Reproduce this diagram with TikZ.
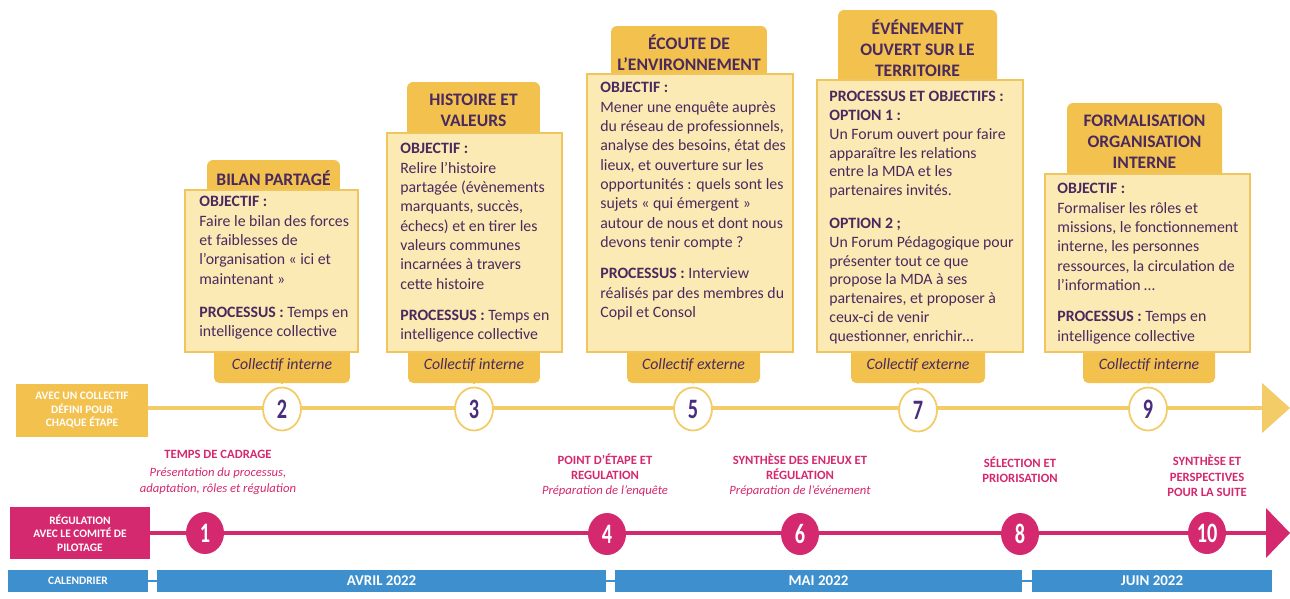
\documentclass[tikz,border=0pt]{standalone}
\usepackage{fontspec}
\setmainfont{Carlito}
\usepackage{graphicx}
\usetikzlibrary{arrows.meta,shapes.geometric}

\definecolor{tabyellow}{HTML}{F2C14E}
\definecolor{cardfill}{HTML}{FCEAB4}
\definecolor{cardline}{HTML}{EFC55E}
\definecolor{lineyellow}{HTML}{F3CB67}
\definecolor{rosepink}{HTML}{D4286F}
\definecolor{calblue}{HTML}{3D8FCE}
\definecolor{inkpurple}{HTML}{4A2A5E}
\definecolor{numpurple}{HTML}{4B2C7A}

\newcommand{\numb}[1]{\scalebox{0.72}[1]{#1}}

\begin{document}
\begin{tikzpicture}[x=0.02cm, y=-0.02cm,
  tab/.style={fill=tabyellow, rounded corners=3.5pt, inner sep=0pt, align=center, text=inkpurple, font=\fontsize{10}{12}\selectfont\bfseries},
  foot/.style={fill=tabyellow, rounded corners=3pt, inner sep=0pt, minimum height=0.72cm, text=inkpurple, font=\fontsize{9}{11}\selectfont\itshape},
  card/.style={fill=cardfill, draw=cardline, line width=0.8pt, inner sep=0pt},
  cardtext/.style={anchor=north west, inner sep=0pt, align=left, text=inkpurple, font=\fontsize{9}{11}\selectfont},
  sidebox/.style={inner sep=0pt, align=center, text=white, font=\fontsize{6.5}{7.7}\selectfont\bfseries},
  calbox/.style={fill=calblue, inner sep=0pt, minimum height=0.44cm, text=white, font=\fontsize{8.5}{10}\selectfont\bfseries},
  etape/.style={ellipse, fill=white, draw=lineyellow, line width=1pt, inner sep=0pt, minimum width=0.76cm, minimum height=0.86cm, text=numpurple, font=\fontsize{16}{16}\selectfont\bfseries},
  reg/.style={ellipse, fill=rosepink, inner sep=0pt, minimum width=0.76cm, minimum height=0.84cm, text=white, font=\fontsize{16}{16}\selectfont\bfseries},
  reglabel/.style={align=center, inner sep=0pt, text=rosepink, font=\fontsize{7.2}{8.7}\selectfont},
  yline/.style={draw=lineyellow, line width=2.8pt, -{Triangle[length=0.56cm, width=0.98cm]}},
  rline/.style={draw=rosepink, line width=2.3pt, -{Triangle[length=0.48cm, width=0.98cm]}},
  calline/.style={draw=calblue, line width=1.2pt},
  tick/.style={draw=cardline, line width=0.6pt, dotted}
]

\useasboundingbox (0,0) rectangle (1290,598);

\node[tab, minimum width=2.66cm, minimum height=0.72cm] (bilan) at (273.5,178) {BILAN PARTAGÉ};
\node[tab, minimum width=2.66cm, minimum height=1.14cm] (histoire) at (473.5,110.5) {HISTOIRE ET\\VALEURS};
\node[tab, minimum width=3.12cm, minimum height=1.08cm] (ecoute) at (689,53) {ÉCOUTE DE\\L’ENVIRONNEMENT};
\node[tab, minimum width=3.18cm, minimum height=1.52cm] (evenement) at (917.5,48) {ÉVÉNEMENT\\OUVERT SUR LE\\TERRITOIRE};
\node[tab, minimum width=3.10cm, minimum height=1.54cm] (formal) at (1144.5,141.5) {FORMALISATION\\ORGANISATION\\INTERNE};

\node[foot, minimum width=2.72cm] (bilanfoot) at (282,365) {Collectif interne};
\node[foot, minimum width=2.64cm] (histoirefoot) at (474,365) {Collectif interne};
\node[foot, minimum width=2.66cm] (ecoutefoot) at (693.5,365) {Collectif externe};
\node[foot, minimum width=2.68cm] (evenementfoot) at (918,365) {Collectif externe};
\node[foot, minimum width=2.64cm] (formalfoot) at (1149,365) {Collectif interne};

\node[card, minimum width=3.46cm, minimum height=3.24cm] (bilanbox) at (271.5,271) {};
\node[card, minimum width=3.50cm, minimum height=4.38cm] (histoirebox) at (474.5,242.5) {};
\node[card, minimum width=4.12cm, minimum height=5.56cm] (ecoutebox) at (690,213) {};
\node[card, minimum width=4.12cm, minimum height=5.44cm] (evenementbox) at (920,216) {};
\node[card, minimum width=4.10cm, minimum height=3.56cm] (formalbox) at (1147.5,263) {};

\node[cardtext] (bilantext) at (199,196) {\textbf{OBJECTIF :}\\Faire le bilan des forces\\et faiblesses de\\l’organisation « ici et\\maintenant »\\[8pt]\textbf{PROCESSUS :} Temps en\\intelligence collective};
\node[cardtext] (histoiretext) at (400,143) {\textbf{OBJECTIF :}\\Relire l’histoire\\partagée (évènements\\marquants, succès,\\échecs) et en tirer les\\valeurs communes\\incarnées à travers\\cette histoire\\[7pt]\textbf{PROCESSUS :} Temps en\\intelligence collective};
\node[cardtext] (ecoutetext) at (600,82) {\textbf{OBJECTIF :}\\Mener une enquête auprès\\du réseau de professionnels,\\analyse des besoins, état des\\lieux, et ouverture sur les\\opportunités : quels sont les\\sujets « qui émergent »\\autour de nous et dont nous\\devons tenir compte ?\\[7pt]\textbf{PROCESSUS :} Interview\\réalisés par des membres du\\Copil et Consol};
\node[cardtext, font=\fontsize{9}{10.7}\selectfont] (evenementtext) at (829,91) {\textbf{PROCESSUS ET OBJECTIFS :}\\\textbf{OPTION 1 :}\\Un Forum ouvert pour faire\\apparaître les relations\\entre la MDA et les\\partenaires invités.\\[8pt]\textbf{OPTION 2 ;}\\Un Forum Pédagogique pour\\présenter tout ce que\\propose la MDA à ses\\partenaires, et proposer à\\ceux-ci de venir\\questionner, enrichir…};
\node[cardtext] (formaltext) at (1057,183) {\textbf{OBJECTIF :}\\Formaliser les rôles et\\missions, le fonctionnement\\interne, les personnes\\ressources, la circulation de\\l’information …\\[7pt]\textbf{PROCESSUS :} Temps en\\intelligence collective};

\node[sidebox, fill=tabyellow, minimum width=2.64cm, minimum height=1.06cm] (collectif) at (82,410) {AVEC UN COLLECTIF\\DÉFINI POUR\\CHAQUE ÉTAPE};
\node[sidebox, fill=rosepink, minimum width=2.8cm, minimum height=1.04cm] (copil) at (80,533) {RÉGULATION\\AVEC LE COMITÉ DE\\PILOTAGE};

\coordinate (yend) at (1290,408);
\coordinate (rend) at (1290,533);
\draw[yline] (collectif.east |- yend) -- (yend);
\draw[rline] (copil) -- (rend);

\node[etape] (e2) at (282,409) {\numb{2}};
\node[etape] (e3) at (474,409) {\numb{3}};
\node[etape] (e5) at (693,409) {\numb{5}};
\node[etape] (e7) at (918,410) {\numb{7}};
\node[etape] (e9) at (1148,409) {\numb{9}};

\draw[tick] (bilanfoot) -- (e2);
\draw[tick] (histoirefoot) -- (e3);
\draw[tick] (ecoutefoot) -- (e5);
\draw[tick] (evenementfoot) -- (e7);
\draw[tick] (formalfoot) -- (e9);

\node[reg] (r1) at (205,533) {\numb{1}};
\node[reg] (r4) at (607,534) {\numb{4}};
\node[reg] (r6) at (800,534) {\numb{6}};
\node[reg] (r8) at (1020,534) {\numb{8}};
\node[reg] (r10) at (1207,533) {\numb{10}};

\node[reglabel] (lab1) at (218,472) {\textbf{TEMPS DE CADRAGE}\\[2pt]\textit{Présentation du processus,}\\\textit{adaptation, rôles et régulation}};
\node[reglabel] (lab4) at (605,475) {\textbf{POINT D’ÉTAPE ET}\\\textbf{REGULATION}\\\textit{Préparation de l’enquête}};
\node[reglabel] (lab6) at (800,475) {\textbf{SYNTHÈSE DES ENJEUX ET}\\\textbf{RÉGULATION}\\\textit{Préparation de l’événement}};
\node[reglabel] (lab8) at (1020,470) {\textbf{SÉLECTION ET}\\\textbf{PRIORISATION}};
\node[reglabel] (lab10) at (1207,476) {\textbf{SYNTHÈSE ET}\\\textbf{PERSPECTIVES}\\\textbf{POUR LA SUITE}};

\node[calbox, minimum width=2.8cm, font=\fontsize{6.5}{7.7}\selectfont\bfseries] (cal) at (78,581) {CALENDRIER};
\node[calbox, minimum width=8.98cm] (avril) at (381.5,581) {AVRIL 2022};
\node[calbox, minimum width=8.14cm] (mai) at (818.5,581) {MAI 2022};
\node[calbox, minimum width=4.8cm] (juin) at (1152,581) {JUIN 2022};
\draw[calline] (cal) -- (avril);
\draw[calline] (avril) -- (mai);
\draw[calline] (mai) -- (juin);

\end{tikzpicture}
\end{document}
